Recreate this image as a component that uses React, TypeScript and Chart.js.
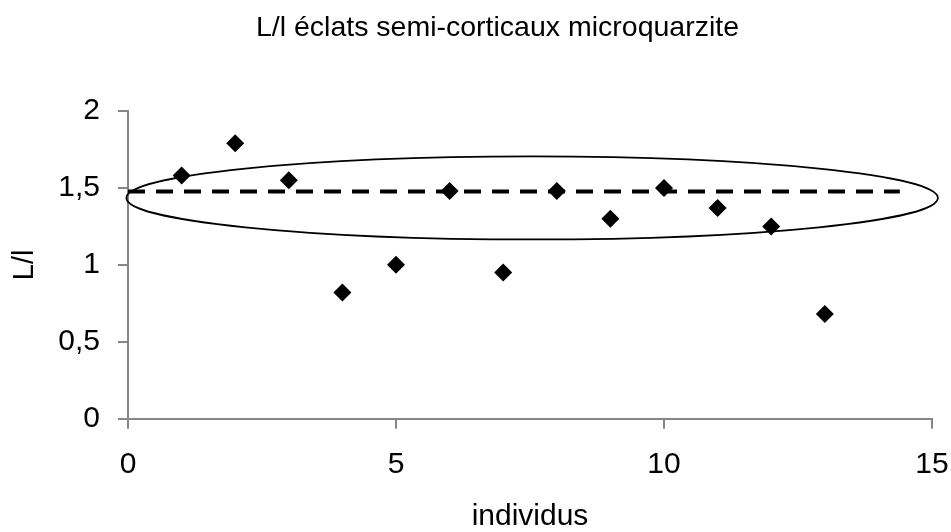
import { useEffect, useRef } from 'react';
import { Chart, registerables } from 'chart.js';

Chart.register(...registerables);

const chartTitle = 'L/l éclats semi-corticaux microquarzite';
const xTitle = 'individus';
const yTitle = 'L/l';

const individus = [1, 2, 3, 4, 5, 6, 7, 8, 9, 10, 11, 12, 13];
const ratioLl = [1.58, 1.79, 1.55, 0.82, 1.0, 1.48, 0.95, 1.48, 1.3, 1.5, 1.37, 1.25, 0.68];

const refLineX = [0, 14.4];
const refLineY = [1.476, 1.476];

const ellipseCenter = [7.54, 1.435];
const ellipseRadii = [7.57, 0.27];

const xRange = [0, 15];
const xStep = 5;
const yRange = [0, 2];
const yStep = 0.5;

const FONT = "'Liberation Sans', Arial, Helvetica, sans-serif";
const AXIS_COLOR = '#868686';

const ellipsePlugin = {
  id: 'ellipseOverlay',
  afterDatasetsDraw(chart: any) {
    const { ctx } = chart;
    const xs = chart.scales.x;
    const ys = chart.scales.y;
    const cx = xs.getPixelForValue(ellipseCenter[0]);
    const cy = ys.getPixelForValue(ellipseCenter[1]);
    const rx = Math.abs(xs.getPixelForValue(ellipseCenter[0] + ellipseRadii[0]) - cx);
    const ry = Math.abs(ys.getPixelForValue(ellipseCenter[1] + ellipseRadii[1]) - cy);
    ctx.save();
    ctx.beginPath();
    ctx.ellipse(cx, cy, rx, ry, 0, 0, Math.PI * 2);
    ctx.lineWidth = 1.75;
    ctx.strokeStyle = '#000';
    ctx.stroke();
    ctx.restore();
  },
};

const titlePlugin = {
  id: 'excelTitle',
  afterDraw(chart: any) {
    const { ctx } = chart;
    ctx.save();
    ctx.font = `28.5px ${FONT}`;
    ctx.fillStyle = '#000';
    ctx.textAlign = 'center';
    ctx.textBaseline = 'middle';
    ctx.fillText(chartTitle, 497.5, 28.3);
    ctx.restore();
  },
};

const fmt = (v: number) => String(v).replace('.', ',');

export default function App() {
  const canvasRef = useRef<HTMLCanvasElement | null>(null);

  useEffect(() => {
    const canvas = canvasRef.current;
    if (!canvas) return;
    Chart.defaults.font.family = FONT;
    Chart.defaults.color = '#000';

    const chart = new Chart(canvas, {
      type: 'scatter',
      data: {
        datasets: [
          {
            label: 'ref',
            data: refLineX.map((x, i) => ({ x, y: refLineY[i] })),
            showLine: true,
            borderColor: '#000',
            borderWidth: 4,
            borderDash: [17, 11],
            pointRadius: 0,
            fill: false,
          } as any,
          {
            label: 'L/l',
            data: individus.map((x, i) => ({ x, y: ratioLl[i] })),
            pointStyle: 'rectRot',
            pointRadius: 9,
            pointBackgroundColor: '#000',
            pointBorderColor: '#000',
            pointBorderWidth: 0,
            showLine: false,
          } as any,
        ],
      },
      options: {
        animation: false,
        responsive: false,
        maintainAspectRatio: false,
        layout: { padding: { left: 0, right: 19, top: 111, bottom: 0 } },
        plugins: {
          legend: { display: false },
          tooltip: { enabled: false },
          title: { display: false },
        },
        scales: {
          x: {
            type: 'linear',
            min: xRange[0],
            max: xRange[1],
            afterFit(scale: any) {
              scale.height = 113.3;
              scale.paddingLeft = 0;
              scale.paddingRight = 0;
            },
            ticks: {
              stepSize: xStep,
              color: '#000',
              font: { family: FONT, size: 30 },
              padding: 18.5,
              maxRotation: 0,
              callback: (v: any) => fmt(Number(v)),
            },
            grid: {
              drawOnChartArea: false,
              drawTicks: true,
              tickLength: 10,
              color: AXIS_COLOR,
              lineWidth: 2,
            },
            border: { display: true, color: AXIS_COLOR, width: 2 },
            title: {
              display: true,
              text: xTitle,
              color: '#000',
              font: { family: FONT, size: 30, lineHeight: 1 },
              padding: { top: 0, bottom: 0 },
            },
          },
          y: {
            type: 'linear',
            min: yRange[0],
            max: yRange[1],
            afterFit(scale: any) {
              scale.width = 128;
              scale.paddingTop = 0;
              scale.paddingBottom = 0;
            },
            ticks: {
              stepSize: yStep,
              color: '#000',
              font: { family: FONT, size: 30 },
              padding: 18,
              callback: (v: any) => fmt(Number(v)),
            },
            grid: {
              drawOnChartArea: false,
              drawTicks: true,
              tickLength: 10,
              color: AXIS_COLOR,
              lineWidth: 2,
            },
            border: { display: true, color: AXIS_COLOR, width: 2 },
            title: {
              display: true,
              text: yTitle,
              color: '#000',
              font: { family: FONT, size: 29, lineHeight: 1 },
              padding: { top: 10, bottom: 0 },
            },
          },
        },
      } as any,
      plugins: [ellipsePlugin, titlePlugin],
    });

    return () => chart.destroy();
  }, []);

  return (
    <div style={{ position: 'absolute', left: 0, top: 0, width: 951, height: 532, background: '#fff' }}>
      <canvas ref={canvasRef} width={951} height={532} style={{ display: 'block' }} />
    </div>
  );
}
